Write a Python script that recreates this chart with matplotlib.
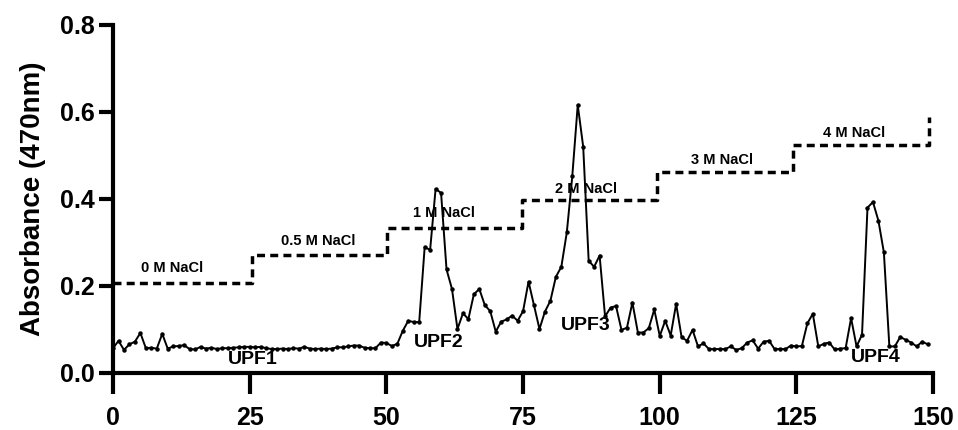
import numpy as np
import matplotlib
matplotlib.use("Agg")
import matplotlib.pyplot as plt

plt.rcParams['font.family'] = ['Liberation Sans', 'DejaVu Sans']

# fraction number vs absorbance
fraction = np.arange(0, 150)
absorbance = [
    0.057, 0.074, 0.053, 0.066, 0.072, 0.092, 0.057, 0.058, 0.056, 0.090,
    0.056, 0.061, 0.062, 0.064, 0.055, 0.054, 0.060, 0.056, 0.058, 0.055,
    0.057, 0.057, 0.058, 0.059, 0.060, 0.060, 0.059, 0.060, 0.057, 0.055,
    0.055, 0.056, 0.055, 0.057, 0.056, 0.060, 0.056, 0.055, 0.056, 0.055,
    0.056, 0.059, 0.059, 0.061, 0.063, 0.063, 0.058, 0.057, 0.057, 0.070,
    0.069, 0.062, 0.067, 0.097, 0.120, 0.117, 0.117, 0.289, 0.283, 0.423,
    0.414, 0.238, 0.193, 0.101, 0.137, 0.124, 0.181, 0.193, 0.156, 0.142,
    0.095, 0.118, 0.123, 0.132, 0.120, 0.142, 0.210, 0.156, 0.101, 0.141,
    0.166, 0.221, 0.244, 0.323, 0.452, 0.616, 0.520, 0.258, 0.244, 0.270,
    0.130, 0.150, 0.154, 0.099, 0.104, 0.162, 0.093, 0.093, 0.103, 0.146,
    0.085, 0.120, 0.086, 0.159, 0.082, 0.074, 0.099, 0.061, 0.068, 0.055,
    0.055, 0.055, 0.055, 0.061, 0.053, 0.057, 0.070, 0.075, 0.056, 0.072,
    0.074, 0.055, 0.055, 0.055, 0.063, 0.061, 0.062, 0.114, 0.136, 0.061,
    0.067, 0.070, 0.054, 0.056, 0.057, 0.126, 0.061, 0.088, 0.380, 0.393,
    0.350, 0.277, 0.061, 0.061, 0.083, 0.076, 0.070, 0.061, 0.072, 0.066,
]

# NaCl gradient steps
step_edges = [0, 25.5, 50.2, 74.8, 99.5, 124.3, 149.3]
step_levels = [0.207, 0.271, 0.333, 0.398, 0.462, 0.524]
step_top = 0.589
salt_labels = ["0 M NaCl", "0.5 M NaCl", "1 M NaCl", "2 M NaCl", "3 M NaCl", "4 M NaCl"]
salt_label_x = [10.8, 37.5, 60.5, 86.5, 111.3, 135.6]
salt_label_y = [0.241, 0.303, 0.368, 0.423, 0.490, 0.552]

peak_labels = ["UPF1", "UPF2", "UPF3", "UPF4"]
peak_x = [25.6, 59.5, 86.5, 139.6]
peak_y = [0.032, 0.071, 0.110, 0.035]

fig = plt.figure(figsize=(9.58, 4.30), dpi=100)
ax = fig.add_axes([0.118, 0.1326, 0.856, 0.8094])

ax.plot(fraction, absorbance, color="black", lw=1.4, marker="o", ms=2.2, clip_on=False)

# build the step line from edges/levels
sx, sy = [], []
for i, lev in enumerate(step_levels):
    sx += [step_edges[i], step_edges[i + 1]]
    sy += [lev, lev]
sx.append(step_edges[-1])
sy.append(step_top)
ax.plot(sx, sy, color="black", lw=2.5, dashes=(2.3, 1.5), clip_on=False)

for t, x, y in zip(salt_labels, salt_label_x, salt_label_y):
    ax.text(x, y, t, ha="center", va="center", fontsize=10.5, fontweight="bold")

for t, x, y in zip(peak_labels, peak_x, peak_y):
    ax.text(x, y, t, ha="center", va="center", fontsize=14, fontweight="bold")

ax.set_xlim(0, 150)
ax.set_ylim(0, 0.8)
ax.set_xticks([0, 25, 50, 75, 100, 125, 150])
ax.set_yticks([0.0, 0.2, 0.4, 0.6, 0.8])
ax.set_yticklabels(["0.0", "0.2", "0.4", "0.6", "0.8"])
ax.spines["top"].set_visible(False)
ax.spines["right"].set_visible(False)
for s in ["left", "bottom"]:
    ax.spines[s].set_linewidth(3)
ax.tick_params(width=3, labelsize=18)
ax.tick_params(axis="x", length=15, pad=9)
ax.tick_params(axis="y", length=10, pad=3)
for lab in ax.get_xticklabels() + ax.get_yticklabels():
    lab.set_fontweight("bold")
ax.set_ylabel("Absorbance (470nm)", fontsize=20, fontweight="bold", labelpad=10)

fig.savefig("out.png", dpi=100)
